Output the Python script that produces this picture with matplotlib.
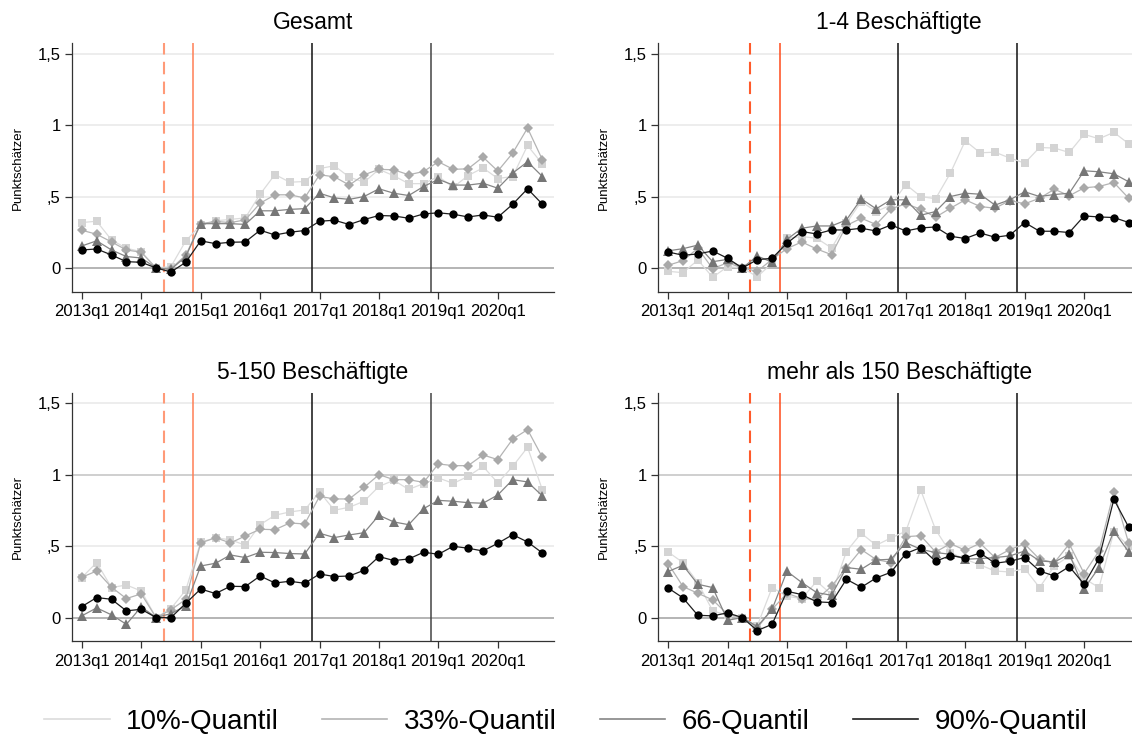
import matplotlib
matplotlib.use("Agg")
import matplotlib.pyplot as plt
from matplotlib.lines import Line2D
import numpy as np

plt.rcParams["font.family"] = ["Liberation Sans", "DejaVu Sans"]

# Quarters 2013q1 .. 2020q4
quarters = [f"{y}q{q}" for y in range(2013, 2021) for q in range(1, 5)]
xtick_labels = ["2013q1", "2014q1", "2015q1", "2016q1", "2017q1", "2018q1", "2019q1", "2020q1"]
ytick_values = [0, 0.5, 1, 1.5]
ytick_labels = ["0", ",5", "1", "1,5"]

titles = ["Gesamt", "1-4 Beschäftigte", "5-150 Beschäftigte", "mehr als 150 Beschäftigte"]
series_labels = ["10%-Quantil", "33%-Quantil", "66-Quantil", "90%-Quantil"]

# event markers (in quarters since 2013q1)
event_dashed = 5.5
event_solid = 7.5
event_black = [15.5, 23.5]

# --- Gesamt
gesamt_q10 = [0.318, 0.327, 0.196, 0.138, 0.114, 0.0, 0.01, 0.19, 0.30, 0.33, 0.34, 0.35,
              0.516, 0.654, 0.60, 0.605, 0.696, 0.715, 0.636, 0.60, 0.69, 0.645, 0.59, 0.59,
              0.64, 0.565, 0.647, 0.70, 0.626, 0.64, 0.857, 0.727]
gesamt_q33 = [0.264, 0.236, 0.182, 0.126, 0.11, 0.0, -0.005, 0.09, 0.31, 0.325, 0.318, 0.336,
              0.453, 0.512, 0.512, 0.49, 0.652, 0.638, 0.58, 0.652, 0.69, 0.687, 0.652, 0.675,
              0.743, 0.69, 0.694, 0.776, 0.678, 0.804, 0.979, 0.757]
gesamt_q66 = [0.154, 0.19, 0.126, 0.08, 0.07, 0.0, -0.01, 0.08, 0.31, 0.31, 0.31, 0.305,
              0.40, 0.40, 0.41, 0.415, 0.523, 0.49, 0.48, 0.50, 0.554, 0.523, 0.507, 0.57,
              0.62, 0.58, 0.58, 0.593, 0.558, 0.664, 0.743, 0.64]
gesamt_q90 = [0.126, 0.133, 0.091, 0.044, 0.04, 0.0, -0.028, 0.04, 0.19, 0.17, 0.18, 0.182,
              0.264, 0.231, 0.25, 0.262, 0.327, 0.334, 0.304, 0.339, 0.367, 0.364, 0.348, 0.378,
              0.386, 0.376, 0.357, 0.371, 0.355, 0.446, 0.554, 0.446]

# --- 1-4 Beschaeftigte
klein_q10 = [-0.023, -0.033, 0.056, -0.065, 0.009, 0.0, -0.061, 0.033, 0.208, 0.22, 0.208, 0.14,
             0.313, 0.465, 0.395, 0.44, 0.584, 0.50, 0.484, 0.664, 0.89, 0.806, 0.81, 0.769,
             0.734, 0.843, 0.839, 0.808, 0.935, 0.904, 0.949, 0.869]
klein_q33 = [0.019, 0.051, 0.138, -0.005, 0.037, 0.0, -0.023, 0.06, 0.136, 0.182, 0.133, 0.093,
             0.297, 0.348, 0.304, 0.414, 0.449, 0.411, 0.355, 0.418, 0.477, 0.43, 0.418, 0.472,
             0.449, 0.488, 0.551, 0.505, 0.561, 0.57, 0.598, 0.488]
klein_q66 = [0.12, 0.135, 0.16, 0.044, 0.06, 0.0, 0.084, 0.04, 0.20, 0.278, 0.294, 0.294,
             0.336, 0.484, 0.414, 0.477, 0.477, 0.369, 0.395, 0.50, 0.523, 0.516, 0.44, 0.477,
             0.533, 0.50, 0.514, 0.523, 0.68, 0.673, 0.659, 0.603]
klein_q90 = [0.112, 0.089, 0.098, 0.119, 0.068, 0.0, 0.058, 0.068, 0.173, 0.255, 0.238, 0.266,
             0.266, 0.278, 0.259, 0.301, 0.259, 0.28, 0.287, 0.222, 0.206, 0.245, 0.215, 0.229,
             0.318, 0.257, 0.257, 0.248, 0.364, 0.357, 0.353, 0.318]

# --- 5-150 Beschaeftigte
mittel_q10 = [0.28, 0.385, 0.21, 0.228, 0.186, 0.0, 0.063, 0.193, 0.529, 0.557, 0.545, 0.506,
              0.65, 0.716, 0.739, 0.753, 0.879, 0.751, 0.772, 0.814, 0.918, 0.96, 0.897, 0.937,
              0.977, 0.939, 0.988, 1.058, 0.942, 1.058, 1.191, 0.893]
mittel_q33 = [0.282, 0.326, 0.212, 0.133, 0.166, 0.0, 0.054, 0.128, 0.522, 0.559, 0.522, 0.571,
              0.618, 0.615, 0.662, 0.655, 0.848, 0.83, 0.83, 0.911, 1.0, 0.965, 0.965, 0.946,
              1.075, 1.063, 1.063, 1.138, 1.105, 1.249, 1.315, 1.121]
mittel_q66 = [0.012, 0.068, 0.019, -0.047, 0.075, 0.0, 0.028, 0.082, 0.361, 0.38, 0.438, 0.42,
              0.457, 0.455, 0.448, 0.445, 0.59, 0.56, 0.578, 0.594, 0.716, 0.669, 0.65, 0.762,
              0.82, 0.814, 0.804, 0.80, 0.858, 0.965, 0.949, 0.851]
mittel_q90 = [0.077, 0.14, 0.128, 0.047, 0.058, 0.0, 0.0, 0.10, 0.20, 0.168, 0.219, 0.217,
              0.291, 0.242, 0.254, 0.24, 0.305, 0.287, 0.291, 0.331, 0.427, 0.399, 0.41, 0.457,
              0.443, 0.499, 0.485, 0.466, 0.52, 0.58, 0.529, 0.452]

# --- mehr als 150 Beschaeftigte
gross_q10 = [0.459, 0.385, 0.245, 0.047, 0.016, 0.0, -0.058, 0.21, 0.149, 0.133, 0.254, 0.161,
             0.462, 0.59, 0.506, 0.557, 0.604, 0.893, 0.615, 0.455, 0.408, 0.368, 0.326, 0.319,
             0.343, 0.21, 0.361, 0.431, 0.273, 0.21, 0.60, 0.50]
gross_q33 = [0.378, 0.217, 0.17, 0.124, 0.023, 0.0, -0.072, 0.058, 0.17, 0.133, 0.128, 0.219,
             0.35, 0.476, 0.406, 0.385, 0.566, 0.573, 0.459, 0.517, 0.471, 0.52, 0.42, 0.476,
             0.515, 0.408, 0.385, 0.515, 0.308, 0.466, 0.879, 0.52]
gross_q66 = [0.322, 0.366, 0.233, 0.21, -0.019, 0.0, -0.063, 0.058, 0.324, 0.245, 0.175, 0.156,
             0.35, 0.338, 0.403, 0.408, 0.524, 0.478, 0.455, 0.443, 0.408, 0.413, 0.42, 0.431,
             0.466, 0.396, 0.389, 0.443, 0.203, 0.35, 0.604, 0.459]
gross_q90 = [0.207, 0.138, 0.016, 0.012, 0.033, 0.0, -0.091, -0.047, 0.184, 0.161, 0.11, 0.105,
             0.268, 0.212, 0.277, 0.317, 0.448, 0.49, 0.394, 0.434, 0.417, 0.452, 0.38, 0.394,
             0.42, 0.326, 0.291, 0.357, 0.233, 0.413, 0.828, 0.632]

panels = [
    [gesamt_q10, gesamt_q33, gesamt_q66, gesamt_q90],
    [klein_q10, klein_q33, klein_q66, klein_q90],
    [mittel_q10, mittel_q33, mittel_q66, mittel_q90],
    [gross_q10, gross_q33, gross_q66, gross_q90],
]

colors = ["#d4d4d4", "#a9a9a9", "#767676", "#000000"]
line_colors = ["#dcdcdc", "#b4b4b4", "#858585", "#1e1e1e"]
markers = ["s", "D", "^", "o"]
msizes = [6.0, 5.5, 6.5, 6.0]
orange_styles = [
    ("#ff9a78", "#ff7f55"),  # left column
    ("#ff5a2a", "#ff4a1a"),  # right column
]

W, H = 1132, 740
fig = plt.figure(figsize=(W / 100, H / 100), dpi=100)


def add_axes_px(left, right, top, bottom):
    return fig.add_axes([left / W, 1 - bottom / H, (right - left) / W, (bottom - top) / H])


boxes = [
    (71.7, 554.3, 43.3, 291.7),
    (658.0, 1140.6, 43.3, 291.7),
    (71.7, 554.3, 392.9, 641.3),
    (658.0, 1140.6, 392.9, 641.3),
]

x = np.arange(len(quarters))

for k, (box, title, data) in enumerate(zip(boxes, titles, panels)):
    ax = add_axes_px(*box)
    col = k % 2
    row = k // 2

    # horizontal grid and zero reference line (bottom row also marks 1)
    for yv in [0.5, 1.0, 1.5]:
        grid_c = "#c2c2c2" if (row == 1 and yv == 1.0) else "#e8e8e8"
        ax.axhline(yv, color=grid_c, lw=1.1, zorder=0)
    ax.axhline(0, color="#a0a0a0", lw=1.1, zorder=1)

    # policy lines
    dash_c, solid_c = orange_styles[col]
    ax.axvline(event_dashed, color=dash_c, lw=1.5, ls=(0, (6, 3.5)), zorder=1)
    ax.axvline(event_solid, color=solid_c, lw=1.1, zorder=1)
    ax.axvline(event_black[0], color="#111111", lw=1.1, zorder=1)
    ax.axvline(event_black[1], color="#111111" if col == 1 else "#444444", lw=1.1, zorder=1)

    for s, vals in enumerate(data):
        ax.plot(x, vals, color=line_colors[s], lw=0.9, marker=markers[s],
                markersize=msizes[s], markerfacecolor=colors[s], markeredgewidth=0,
                zorder=2 + s)

    ax.set_xlim(-0.68, 31.8)
    ax.set_ylim(-0.166, 1.572)
    ax.set_xticks(np.arange(0, 32, 4))
    ax.set_xticklabels(xtick_labels)
    ax.set_yticks(ytick_values)
    ax.set_yticklabels(ytick_labels)
    ax.tick_params(axis="both", labelsize=12, length=5, width=0.9, color="#333333",
                   direction="out", pad=4)
    ax.tick_params(axis="y", pad=3)

    for side in ["top", "right"]:
        ax.spines[side].set_visible(False)
    for side in ["left", "bottom"]:
        ax.spines[side].set_color("#333333")
        ax.spines[side].set_linewidth(0.9)

    ax.set_ylabel("Punktschätzer", fontsize=9.5)
    ax.yaxis.set_label_coords(-0.1, 0.5)
    ax.set_title(title, fontsize=16.5, pad=10)

handles = [Line2D([0], [0], color=line_colors[s], lw=1.2) for s in range(4)]
fig.legend(handles, series_labels, loc="center", bbox_to_anchor=(0.5, 1 - 722 / H),
           ncol=4, frameon=False, fontsize=20, handlelength=2.35, handletextpad=0.6,
           columnspacing=1.55)

fig.savefig("out.png", dpi=100)
